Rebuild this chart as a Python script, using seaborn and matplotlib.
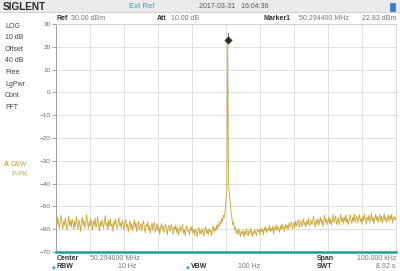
import numpy as np
import pandas as pd
import matplotlib
matplotlib.use("Agg")
import matplotlib.pyplot as plt
import seaborn as sns

# ---------------- data ----------------
span_khz = 100.0
trace_dbm = [
    -55.8, -58.9, -54.6, -57.2, -59.6, -56.1, -53.9, -57.7, -60.1, -56.4, -58.3, -55.0, -57.9, -60.4, -56.8, -54.2, -58.6, -56.0, -59.2, -55.5,
    -57.6, -60.2, -56.3, -58.8, -54.4, -57.1, -59.9, -55.7, -58.0, -61.0, -56.9, -54.8, -58.4, -56.2, -59.5, -57.3, -53.6, -57.0, -59.8, -56.6,
    -58.7, -55.3, -57.8, -60.6, -56.4, -58.2, -55.1, -59.3, -57.5, -54.5, -58.1, -60.8, -56.7, -58.9, -55.9, -57.4, -59.7, -56.3, -54.0, -58.5,
    -57.1, -60.3, -56.0, -58.6, -55.4, -59.0, -57.7, -61.2, -56.5, -58.3, -55.6, -57.9, -60.0, -56.8, -54.9, -58.8, -57.2, -59.6, -56.1, -58.4,
    -60.5, -57.3, -55.7, -59.2, -57.8, -61.4, -58.0, -56.2, -59.9, -57.5, -60.7, -58.6, -55.8, -59.4, -57.0, -61.1, -58.2, -56.6, -60.2, -58.9,
    -57.4, -60.9, -58.1, -56.3, -59.7, -61.6, -57.9, -59.0, -56.8, -60.4, -58.5, -62.0, -59.3, -57.2, -60.6, -58.0, -56.9, -61.3, -59.1, -57.6,
    -60.8, -58.7, -62.2, -59.5, -57.5, -60.1, -58.4, -61.7, -59.8, -57.8, -60.5, -62.5, -59.0, -58.2, -61.0, -59.6, -57.7, -60.9, -62.1, -58.8,
    -60.3, -58.1, -61.5, -59.4, -62.7, -60.0, -58.6, -61.2, -59.7, -57.9, -61.8, -60.2, -63.0, -59.5, -58.4, -61.1, -60.6, -62.4, -59.2, -60.9,
    -58.7, -61.6, -60.1, -62.8, -59.9, -61.0, -63.3, -60.4, -59.1, -61.9, -60.6, -62.3, -59.6, -61.4, -63.1, -60.2, -58.9, -61.7, -60.5, -62.6,
    -59.8, -61.2, -60.3, -62.9, -60.0, -58.6, -61.5, -59.4, -60.8, -58.2, -59.9, -57.6, -58.8, -56.4, -57.9, -55.2, -56.7, -53.8, -54.9, -51.5,
    -47.0, -42.5, 22.83, -40.0,
    -44.5, -48.8, -52.6, -55.3, -58.1, -56.9, -60.2, -59.0, -61.8, -60.4, -62.6, -59.7, -61.3, -63.2, -60.8, -62.1,
    -60.5, -63.6, -61.0, -62.4, -59.9, -61.7, -63.0, -60.6, -62.2, -59.5, -61.4, -63.4, -60.9, -62.0, -60.1, -61.8, -62.9, -59.8, -61.2, -60.3,
    -62.3, -59.6, -61.0, -60.0, -62.5, -59.2, -60.7, -58.9, -61.6, -59.9, -60.4, -58.3, -61.1, -59.5, -60.8, -58.6, -62.0, -59.3, -60.2, -58.1,
    -60.9, -58.8, -59.7, -61.3, -58.4, -60.1, -57.6, -59.8, -58.9, -61.0, -57.9, -59.4, -58.2, -60.5, -57.3, -59.1, -58.0, -56.8, -60.0, -58.5,
    -57.0, -59.6, -56.4, -58.7, -57.5, -55.8, -59.3, -57.2, -56.1, -58.9, -57.7, -55.4, -58.2, -56.9, -59.0, -56.3, -57.8, -55.1, -58.6, -57.4,
    -55.9, -58.1, -56.6, -54.3, -57.5, -59.2, -56.0, -57.9, -55.2, -58.4, -56.8, -54.7, -57.3, -55.6, -58.8, -56.2, -53.9, -57.0, -55.5, -58.0,
    -56.4, -54.6, -57.6, -55.3, -58.3, -56.1, -53.6, -57.2, -55.8, -54.2, -57.8, -56.5, -54.9, -58.1, -55.7, -53.4, -56.9, -55.0, -57.4, -54.5,
    -56.7, -53.8, -57.1, -55.4, -58.0, -56.2, -53.5, -55.9, -57.5, -54.8, -56.6, -53.2, -57.0, -55.6, -54.1, -57.3, -55.2, -53.7, -56.8, -55.1,
    -57.6, -54.4, -56.3, -53.3, -55.7, -57.9, -54.6, -56.1, -53.9, -57.2, -55.5, -53.0, -56.4, -54.7, -57.7, -55.3, -53.6, -56.0, -54.3, -57.1,
    -55.0, -53.5, -56.5, -54.2, -57.4, -55.8, -53.1, -56.2, -54.5, -57.0, -55.4, -53.8, -56.7, -54.0, -55.9, -53.4, -57.3, -55.1, -54.4, -56.1, -54.8,
]
marker_offset_khz = [0.5]
marker_dbm = [22.83]
y_ticks = [30, 20, 10, 0, -10, -20, -30, -40, -50, -60, -70]
left_labels = ["LOG", "10 dB", "Offset", "40 dB", "Free", "LgPwr", "Cont", "FFT"]

freq = np.linspace(-span_khz / 2, span_khz / 2, len(trace_dbm))
df = pd.DataFrame({"freq": freq, "level": trace_dbm})
mk = pd.DataFrame({"freq": marker_offset_khz, "level": marker_dbm})

# ---------------- figure ----------------
sns.set_theme(style="white")
plt.rcParams["font.family"] = ["Liberation Sans", "DejaVu Sans"]
W, H = 400, 271
fig = plt.figure(figsize=(W / 100, H / 100), dpi=100)
fig.patch.set_facecolor("white")

L, R, T, B = 56, 396, 24, 252
ax = fig.add_axes([L / W, 1 - B / H, (R - L) / W, (B - T) / H])

def fx(px):
    return px / W

def fy(py):
    return 1 - py / H

# header bar
fig.add_artist(plt.Rectangle((0, fy(12)), 1, 12 / H, transform=fig.transFigure,
                             facecolor="#ebebeb", edgecolor="none", zorder=0))
fig.add_artist(plt.Line2D([0, 1], [fy(12), fy(12)], transform=fig.transFigure,
                          color="#c8c8c8", lw=0.6))

# grid and trace
ax.set_xlim(-span_khz / 2, span_khz / 2)
ax.set_ylim(-70, 30)
ax.set_xticks(np.linspace(-span_khz / 2, span_khz / 2, 11))
ax.set_yticks(y_ticks)
ax.grid(True, color="#dadada", lw=0.6)
ax.set_axisbelow(True)

sns.lineplot(data=df, x="freq", y="level", color="#c9a735", lw=0.6, ax=ax, zorder=3)
sns.scatterplot(data=mk, x="freq", y="level", marker="D", s=14, color="#2a2a2a",
                edgecolor="#6b4b2a", linewidth=0.5, ax=ax, zorder=5)
ax.plot([marker_offset_khz[0]] * 2, [marker_dbm[0] + 1.5, marker_dbm[0] + 3.2],
        color="#444444", lw=0.6, zorder=5)

ax.set_xlabel("")
ax.set_ylabel("")
ax.set_xticklabels([])
ax.tick_params(axis="x", length=0)
ax.tick_params(axis="y", length=3, width=0.6, color="#999999", labelsize=4.6,
               labelcolor="#666666", pad=1, direction="out", left=True)
for s in ["top", "right"]:
    ax.spines[s].set_color("#d0d0d0")
    ax.spines[s].set_linewidth(0.6)
ax.spines["left"].set_color("#a0a0a0")
ax.spines["left"].set_linewidth(0.7)
ax.spines["bottom"].set_color("#1f9a9e")
ax.spines["bottom"].set_linewidth(1.8)

# ---------------- texts ----------------
dark = "#333333"
gray = "#777777"
fs = 5.0
fig.text(fx(3), fy(6.5), "SIGLENT", fontsize=7.2, fontweight="bold", color="#2a2a2a",
         va="center", ha="left")
fig.text(fx(129), fy(6.5), "Ext Ref", fontsize=5.6, color="#3b9cc4", va="center")
fig.text(fx(199), fy(6.5), "2017-03-31   16:04:36", fontsize=5.0, color="#555555", va="center")
fig.add_artist(plt.Rectangle((fx(390), fy(11)), 5 / W, 8 / H, transform=fig.transFigure,
                             facecolor="#2b7fd0", edgecolor="#1a5fa8", lw=0.4))

fig.text(fx(57), fy(18), "Ref", fontsize=fs, fontweight="bold", color=dark, va="center")
fig.text(fx(71), fy(18), "30.00 dBm", fontsize=fs, color=gray, va="center")
fig.text(fx(157), fy(18), "Att", fontsize=fs, fontweight="bold", color=dark, va="center")
fig.text(fx(171), fy(18), "10.00 dB", fontsize=fs, color=gray, va="center")
fig.text(fx(264), fy(18), "Marker1", fontsize=fs, fontweight="bold", color=dark, va="center")
fig.text(fx(299), fy(18), "50.294400 MHz", fontsize=fs, color=gray, va="center")
fig.text(fx(396), fy(18), "22.83 dBm", fontsize=fs, color=gray, va="center", ha="right")

for i, t in enumerate(left_labels):
    fig.text(fx(5), fy(26 + i * 11.6), t, fontsize=fs, color="#444444", va="center")
fig.text(fx(4), fy(164), "A", fontsize=fs, color="#c9a735", va="center", fontweight="bold")
fig.text(fx(11), fy(164), "C&W", fontsize=fs, color="#c9a735", va="center")
fig.text(fx(11), fy(175), "P-PK", fontsize=fs, color="#c9a735", va="center")

fig.text(fx(57), fy(259), "Center", fontsize=fs, fontweight="bold", color=dark, va="center")
fig.text(fx(90), fy(259), "50.294000 MHz", fontsize=fs, color=gray, va="center")
fig.text(fx(317), fy(259), "Span", fontsize=fs, fontweight="bold", color=dark, va="center")
fig.text(fx(396), fy(259), "100.000 kHz", fontsize=fs, color=gray, va="center", ha="right")

fig.text(fx(52), fy(267), "\u25c6", fontsize=3.6, color="#3ba6c8", va="center")
fig.text(fx(57), fy(267), "RBW", fontsize=fs, fontweight="bold", color=dark, va="center")
fig.text(fx(136), fy(267), "10 Hz", fontsize=fs, color=gray, va="center", ha="right")
fig.text(fx(186), fy(267), "\u25c6", fontsize=3.6, color="#3ba6c8", va="center")
fig.text(fx(191), fy(267), "VBW", fontsize=fs, fontweight="bold", color=dark, va="center")
fig.text(fx(260), fy(267), "100 Hz", fontsize=fs, color=gray, va="center", ha="right")
fig.text(fx(317), fy(267), "SWT", fontsize=fs, fontweight="bold", color=dark, va="center")
fig.text(fx(396), fy(267), "8.92 s", fontsize=fs, color=gray, va="center", ha="right")

fig.savefig("out.png", dpi=100)
